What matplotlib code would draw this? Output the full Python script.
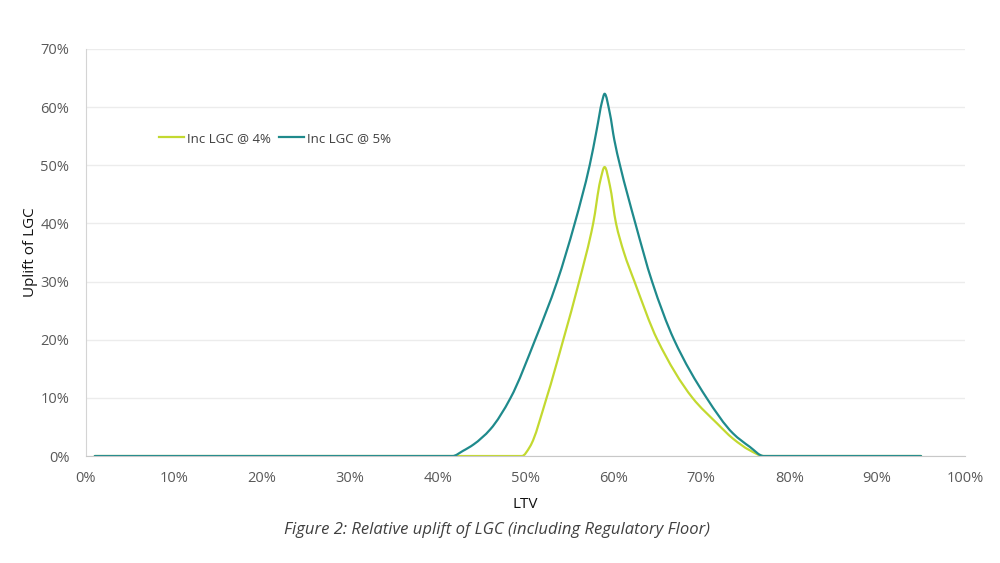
import matplotlib

matplotlib.use("Agg")
import matplotlib.pyplot as plt
import numpy as np
from matplotlib.patches import PathPatch
from matplotlib.path import Path
from matplotlib.ticker import FuncFormatter, MultipleLocator

# LTV (%) and uplift of LGC (%)
ltv_5 = [1, 41.7, 42.9, 44.1, 46.0, 48.3, 51.1, 53.6, 55.6, 57.3, 58.1, 58.7,
         59.0, 59.6, 60.1, 60.75, 62.5, 64.4, 66.9, 70.6, 73.6, 75.5, 77.1, 95]
lgc_5 = [0, 0, 0.9, 2.0, 4.6, 10.0, 20.0, 30.0, 40.0, 50.0, 56.1, 60.9,
         62.3, 58.9, 54.4, 50.0, 40.0, 30.0, 20.0, 10.0, 3.9, 1.6, 0, 0]

ltv_4 = [1, 49.6, 50.5, 52.4, 54.3, 56.1, 57.7, 58.5, 59.0, 59.6, 60.3,
         61.2, 62.4, 65.0, 69.0, 71.8, 73.6, 75.5, 77.1, 95]
lgc_4 = [0, 0, 1.6, 10.0, 20.0, 30.0, 40.0, 47.3, 49.7, 46.5, 40.0,
         35.0, 30.0, 20.0, 10.0, 5.6, 3.0, 1.0, 0, 0]

LIME = "#c3d930"
TEAL = "#1f8a8c"


def smooth_path(xs, ys):
    """Smoothed line like Excel's: monotone cubic (Fritsch-Carlson) drawn as Beziers."""
    x = np.asarray(xs, float)
    y = np.asarray(ys, float)
    h = np.diff(x)
    d = np.diff(y) / h
    m = np.zeros_like(y)
    m[0], m[-1] = d[0], d[-1]
    for k in range(1, len(y) - 1):
        if d[k - 1] * d[k] > 0:
            w1 = 2 * h[k] + h[k - 1]
            w2 = h[k] + 2 * h[k - 1]
            m[k] = (w1 + w2) / (w1 / d[k - 1] + w2 / d[k])
    verts = [(x[0], y[0])]
    codes = [Path.MOVETO]
    for i in range(len(x) - 1):
        t = h[i] / 3
        verts += [(x[i] + t, y[i] + t * m[i]),
                  (x[i + 1] - t, y[i + 1] - t * m[i + 1]),
                  (x[i + 1], y[i + 1])]
        codes += [Path.CURVE4] * 3
    return Path(verts, codes)


plt.rcParams["font.family"] = ["Open Sans", "DejaVu Sans"]

fig = plt.figure(figsize=(10, 5.63), dpi=100)
ax = fig.add_axes([0.086, 0.190, 0.879, 0.723])

for xs, ys, col, lab in [(ltv_4, lgc_4, LIME, "Inc LGC @ 4%"),
                         (ltv_5, lgc_5, TEAL, "Inc LGC @ 5%")]:
    ax.add_patch(PathPatch(smooth_path(xs, ys), fill=False, edgecolor=col,
                           lw=1.6, capstyle="round", joinstyle="round"))
    ax.plot([], [], color=col, lw=1.6, label=lab)  # legend handle

ax.set_xlim(0, 100)
ax.set_ylim(0, 70)
ax.xaxis.set_major_locator(MultipleLocator(10))
ax.yaxis.set_major_locator(MultipleLocator(10))
pct = FuncFormatter(lambda v, _: f"{v:.0f}%")
ax.xaxis.set_major_formatter(pct)
ax.yaxis.set_major_formatter(pct)
ax.tick_params(length=0, labelsize=10.5, labelcolor="#595959")
ax.tick_params(axis="x", pad=11)
ax.tick_params(axis="y", pad=12)

ax.grid(axis="y", color="#ececec", lw=1)
ax.set_axisbelow(True)
for side in ("top", "right"):
    ax.spines[side].set_visible(False)
ax.spines["left"].set_color("#d4d4d4")
ax.spines["bottom"].set_color("#c8c8c8")

ax.set_xlabel("LTV", fontsize=11, color="#111111", labelpad=8)
ax.set_ylabel("Uplift of LGC", fontsize=11, color="#111111", labelpad=2)

ax.legend(loc="center left", bbox_to_anchor=(0.070, 0.781), ncol=2,
          frameon=False, fontsize=9.5, handlelength=1.9, handletextpad=0.2,
          columnspacing=0.6, labelcolor="#404040")

fig.text(0.497, 0.058, "Figure 2: Relative uplift of LGC (including Regulatory Floor)",
         ha="center", va="center", fontsize=12, style="italic", color="#404040")

fig.savefig("out.png", dpi=100)
